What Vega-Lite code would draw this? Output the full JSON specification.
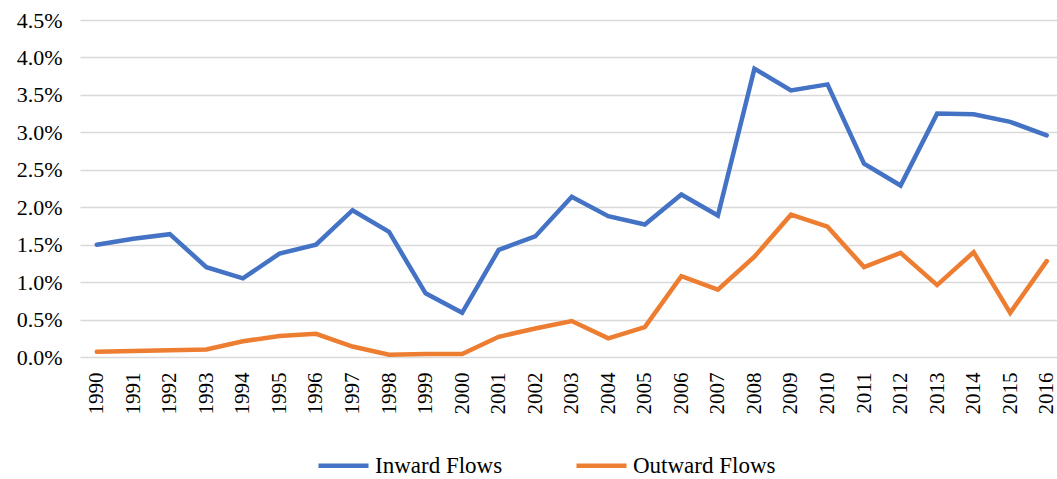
{
  "$schema": "https://vega.github.io/schema/vega-lite/v6.json",
  "width": 977,
  "height": 337,
  "autosize": "none",
  "padding": {"left": 80, "top": 20, "right": 0, "bottom": 122},
  "background": "white",
  "config": {
    "font": "Liberation Serif",
    "view": {"stroke": null}
  },
  "data": {
    "values": [
      {"year": "1990", "series": "Inward Flows", "value": 0.0150},
      {"year": "1991", "series": "Inward Flows", "value": 0.0158},
      {"year": "1992", "series": "Inward Flows", "value": 0.0164},
      {"year": "1993", "series": "Inward Flows", "value": 0.0120},
      {"year": "1994", "series": "Inward Flows", "value": 0.0105},
      {"year": "1995", "series": "Inward Flows", "value": 0.0138},
      {"year": "1996", "series": "Inward Flows", "value": 0.0150},
      {"year": "1997", "series": "Inward Flows", "value": 0.0196},
      {"year": "1998", "series": "Inward Flows", "value": 0.0167},
      {"year": "1999", "series": "Inward Flows", "value": 0.0085},
      {"year": "2000", "series": "Inward Flows", "value": 0.0059},
      {"year": "2001", "series": "Inward Flows", "value": 0.0143},
      {"year": "2002", "series": "Inward Flows", "value": 0.0161},
      {"year": "2003", "series": "Inward Flows", "value": 0.0214},
      {"year": "2004", "series": "Inward Flows", "value": 0.0188},
      {"year": "2005", "series": "Inward Flows", "value": 0.0177},
      {"year": "2006", "series": "Inward Flows", "value": 0.0217},
      {"year": "2007", "series": "Inward Flows", "value": 0.0189},
      {"year": "2008", "series": "Inward Flows", "value": 0.0385},
      {"year": "2009", "series": "Inward Flows", "value": 0.0356},
      {"year": "2010", "series": "Inward Flows", "value": 0.0364},
      {"year": "2011", "series": "Inward Flows", "value": 0.0258},
      {"year": "2012", "series": "Inward Flows", "value": 0.0229},
      {"year": "2013", "series": "Inward Flows", "value": 0.0325},
      {"year": "2014", "series": "Inward Flows", "value": 0.0324},
      {"year": "2015", "series": "Inward Flows", "value": 0.0314},
      {"year": "2016", "series": "Inward Flows", "value": 0.0296},
      {"year": "1990", "series": "Outward Flows", "value": 0.0007},
      {"year": "1991", "series": "Outward Flows", "value": 0.0008},
      {"year": "1992", "series": "Outward Flows", "value": 0.0009},
      {"year": "1993", "series": "Outward Flows", "value": 0.0010},
      {"year": "1994", "series": "Outward Flows", "value": 0.0021},
      {"year": "1995", "series": "Outward Flows", "value": 0.0028},
      {"year": "1996", "series": "Outward Flows", "value": 0.0031},
      {"year": "1997", "series": "Outward Flows", "value": 0.0014},
      {"year": "1998", "series": "Outward Flows", "value": 0.0003},
      {"year": "1999", "series": "Outward Flows", "value": 0.0004},
      {"year": "2000", "series": "Outward Flows", "value": 0.0004},
      {"year": "2001", "series": "Outward Flows", "value": 0.0027},
      {"year": "2002", "series": "Outward Flows", "value": 0.0038},
      {"year": "2003", "series": "Outward Flows", "value": 0.0048},
      {"year": "2004", "series": "Outward Flows", "value": 0.0025},
      {"year": "2005", "series": "Outward Flows", "value": 0.0040},
      {"year": "2006", "series": "Outward Flows", "value": 0.0108},
      {"year": "2007", "series": "Outward Flows", "value": 0.0090},
      {"year": "2008", "series": "Outward Flows", "value": 0.0134},
      {"year": "2009", "series": "Outward Flows", "value": 0.0190},
      {"year": "2010", "series": "Outward Flows", "value": 0.0174},
      {"year": "2011", "series": "Outward Flows", "value": 0.0120},
      {"year": "2012", "series": "Outward Flows", "value": 0.0139},
      {"year": "2013", "series": "Outward Flows", "value": 0.0096},
      {"year": "2014", "series": "Outward Flows", "value": 0.0140},
      {"year": "2015", "series": "Outward Flows", "value": 0.0059},
      {"year": "2016", "series": "Outward Flows", "value": 0.0128}
    ]
  },
  "mark": {"type": "line", "strokeWidth": 4.5, "strokeCap": "round", "strokeJoin": "miter"},
  "encoding": {
    "x": {
      "field": "year",
      "type": "ordinal",
      "scale": {"type": "point", "padding": 0.37, "align": 0.62},
      "axis": {
        "title": null,
        "labelAngle": 270,
        "labelAlign": "right",
        "labelBaseline": "middle",
        "labelFont": "Liberation Serif",
        "labelFontSize": 21,
        "labelColor": "#000000",
        "ticks": false,
        "domain": false,
        "grid": false,
        "labelPadding": 15
      }
    },
    "y": {
      "field": "value",
      "type": "quantitative",
      "scale": {"domain": [0, 0.045], "nice": false, "zero": true},
      "axis": {
        "title": null,
        "format": ".1%",
        "values": [0, 0.005, 0.01, 0.015, 0.02, 0.025, 0.03, 0.035, 0.04, 0.045],
        "labelFont": "Liberation Serif",
        "labelFontSize": 22,
        "labelColor": "#000000",
        "gridColor": "#d9d9d9",
        "gridWidth": 1.5,
        "domain": false,
        "ticks": false,
        "labelPadding": 18
      }
    },
    "color": {
      "field": "series",
      "type": "nominal",
      "scale": {"domain": ["Inward Flows", "Outward Flows"], "range": ["#4472C4", "#ED7D31"]},
      "legend": {
        "title": null,
        "orient": "none",
        "legendX": 236,
        "legendY": 418,
        "direction": "horizontal",
        "symbolType": "stroke",
        "symbolSize": 2500,
        "symbolStrokeWidth": 4.5,
        "labelFont": "Liberation Serif",
        "labelFontSize": 23,
        "labelColor": "#000000",
        "labelOffset": 4,
        "columnPadding": 64,
        "labelLimit": 300
      }
    }
  }
}
